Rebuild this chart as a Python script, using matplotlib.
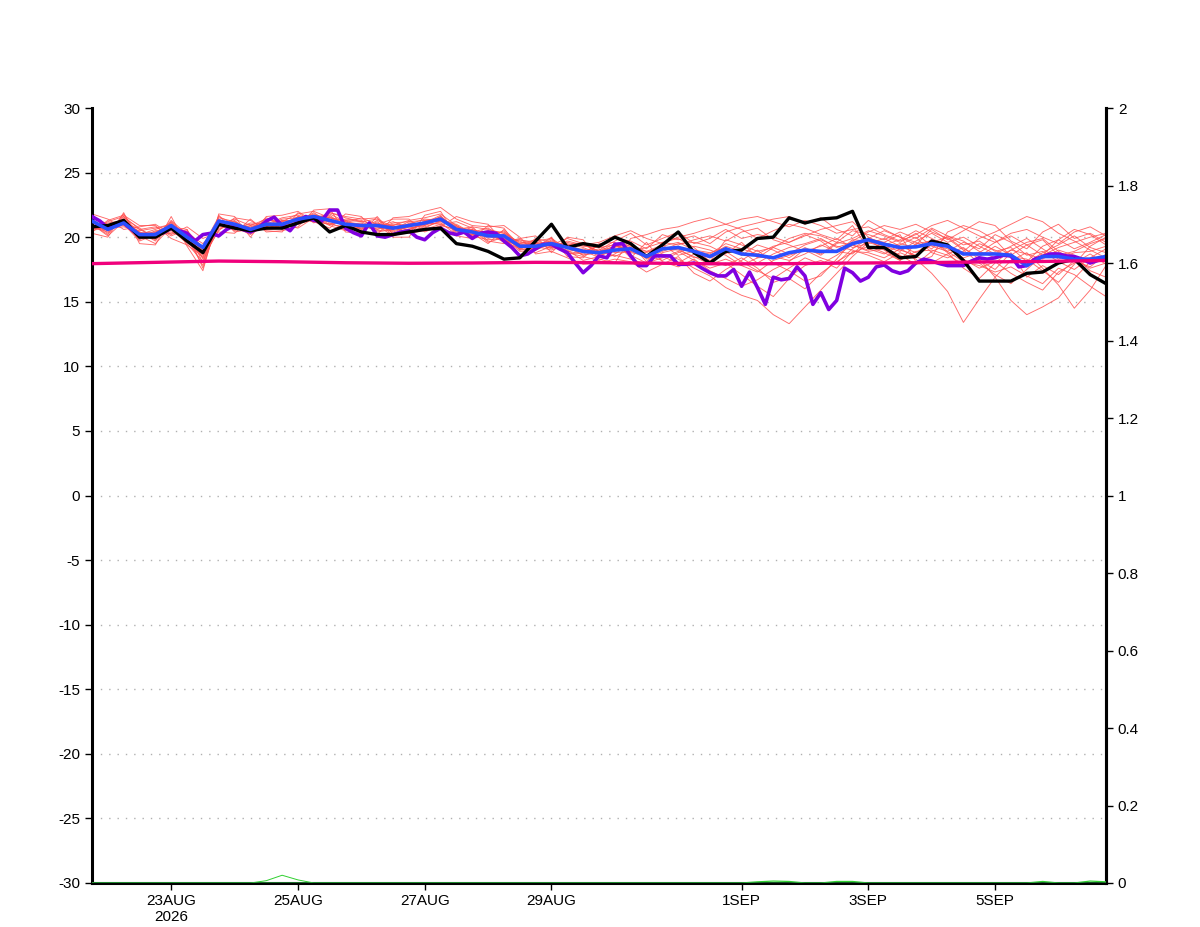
import numpy as np
import matplotlib
matplotlib.use("Agg")
import matplotlib.pyplot as plt
import matplotlib.dates as mdates

# ---------------- data ----------------
start = np.datetime64("2026-08-21T18:00")
n6 = 65    # 6-hourly steps
n3 = 129   # 3-hourly steps
times6 = start + np.arange(n6) * np.timedelta64(6, "h")
times3 = start + np.arange(n3) * np.timedelta64(3, "h")
times24 = start + np.arange(17) * np.timedelta64(24, "h")

black = [20.8, 20.9, 21.3, 20.0, 20.0, 20.7, 19.7, 18.8, 21.0, 20.7, 20.5, 20.7, 20.7, 21.1, 21.5, 20.4, 20.9,
         20.4, 20.2, 20.2, 20.4, 20.6, 20.7, 19.5, 19.3, 18.9, 18.3, 18.4, 19.7, 21.0, 19.2, 19.5, 19.3,
         20.0, 19.5, 18.5, 19.4, 20.4, 18.8, 18.0, 18.9, 19.0, 19.9, 20.0, 21.5, 21.1, 21.4, 21.5, 22.0,
         19.2, 19.2, 18.4, 18.5, 19.7, 19.4, 18.2, 16.6, 16.6, 16.6, 17.2, 17.3, 18.0, 18.3, 17.1, 16.4]

blue = [21.25, 20.6, 21.1, 20.2, 20.2, 20.9, 20.0, 19.2, 21.25, 21.0, 20.6, 21.0, 21.0, 21.4, 21.6, 21.3, 21.0,
        20.9, 20.9, 20.7, 20.9, 21.1, 21.4, 20.6, 20.4, 20.1, 20.1, 19.3, 19.3, 19.5, 19.2, 18.9, 18.8,
        19.0, 19.1, 18.5, 19.1, 19.2, 18.9, 18.5, 19.1, 18.7, 18.6, 18.4, 18.8, 19.0, 18.9, 18.9, 19.5,
        19.8, 19.45, 19.2, 19.25, 19.5, 19.3, 18.7, 18.7, 18.7, 18.6, 17.8, 18.5, 18.5, 18.3, 18.3, 18.5]

purple = [21.6, 21.25, 20.7, 21.0, 21.1, 20.6, 20.1, 20.1, 20.2, 20.35, 20.7, 20.5, 20.3, 19.7, 20.2, 20.3,
          20.1, 20.6, 20.9, 20.6, 20.4, 20.7, 21.25, 21.55, 20.9, 20.5, 21.25, 21.6, 21.3, 21.25, 22.1, 22.1,
          20.7, 20.35, 20.1, 21.1, 20.1, 20.0, 20.2, 20.4, 20.5, 20.0, 19.8, 20.35, 20.7, 20.35, 20.2, 20.4,
          19.9, 20.3, 20.4, 20.3, 19.7, 19.2, 18.55, 18.7, 19.1, 19.45, 19.45, 19.1, 18.8, 18.0, 17.25, 17.8,
          18.55, 18.4, 19.45, 19.5, 18.55, 17.8, 17.8, 18.55, 18.55, 18.55, 17.9, 17.9, 18.0, 17.6, 17.25, 17.0,
          17.0, 17.5, 16.2, 17.3, 16.1, 14.8, 16.9, 16.7, 16.8, 17.7, 17.0, 14.8, 15.7, 14.4, 15.1, 17.6,
          17.25, 16.6, 16.9, 17.7, 17.85, 17.4, 17.2, 17.4, 18.0, 18.3, 18.15, 17.95, 17.8, 17.8, 17.8, 18.15,
          18.4, 18.3, 18.4, 18.6, 18.55, 17.7, 17.8, 18.3, 18.5, 18.7, 18.7, 18.55, 18.5, 18.3, 18.0, 18.2,
          18.3]

pink = [17.95, 18.05, 18.15, 18.1, 18.02, 17.98, 18.0, 18.05, 18.03, 17.98, 17.93, 17.95, 18.0, 18.02,
        18.08, 18.12, 18.2]

m1 = [20.9, 20.5, 21.4, 20.3, 19.8, 21.1, 19.6, 18.6, 21.5, 21.2, 20.4, 21.3, 21.2, 21.8, 22.0, 21.5, 21.2,
      21.0, 20.6, 20.9, 21.3, 21.5, 21.8, 20.9, 20.1, 19.8, 19.9, 18.9, 19.0, 19.8, 18.8, 18.5, 18.2,
      18.7, 19.5, 18.1, 19.6, 19.9, 19.2, 18.1, 19.8, 19.4, 18.9, 19.2, 19.9, 20.3, 20.1, 19.6, 20.5,
      20.2, 19.8, 20.4, 19.9, 20.7, 20.1, 19.4, 19.7, 18.9, 19.2, 18.1, 19.3, 19.8, 19.1, 19.6, 20.2]
m2 = [21.5, 20.9, 21.0, 19.9, 20.5, 20.6, 20.3, 19.5, 20.9, 20.7, 21.0, 20.8, 21.3, 21.1, 21.5, 21.7, 20.8,
      20.5, 21.2, 20.3, 20.6, 21.0, 21.1, 20.2, 20.8, 20.6, 20.3, 19.6, 19.5, 19.1, 19.6, 19.3, 19.2,
      19.4, 18.6, 18.0, 18.4, 18.9, 18.2, 17.6, 18.0, 17.1, 16.2, 15.4, 16.8, 16.0, 17.2, 18.1, 18.8,
      19.3, 18.8, 18.2, 18.9, 19.0, 18.6, 17.9, 18.2, 17.5, 18.8, 16.9, 17.8, 17.1, 18.2, 17.6, 18.0]
m3 = [20.6, 21.2, 21.6, 20.6, 20.0, 21.3, 20.2, 18.9, 21.0, 21.4, 20.9, 20.6, 20.7, 21.6, 21.3, 21.0, 21.4,
      21.3, 20.8, 21.2, 20.7, 20.9, 21.6, 20.5, 20.0, 20.4, 19.7, 19.1, 19.7, 19.9, 18.7, 18.8, 19.4,
      19.9, 19.7, 19.1, 20.2, 19.8, 20.1, 19.5, 20.4, 20.8, 21.1, 21.4, 21.6, 21.0, 21.5, 20.6, 20.1,
      21.3, 20.6, 20.0, 19.4, 20.6, 19.8, 20.5, 21.2, 20.9, 19.7, 19.1, 20.4, 21.0, 19.9, 20.3, 19.6]
m4 = [21.0, 20.2, 21.8, 20.0, 20.3, 20.4, 19.9, 17.8, 21.3, 20.8, 20.2, 21.1, 20.9, 21.2, 21.9, 21.1, 20.6,
      20.7, 20.9, 20.1, 21.1, 20.8, 21.2, 21.0, 20.3, 19.5, 20.6, 19.4, 18.8, 19.3, 19.0, 18.2, 18.5,
      19.1, 18.9, 18.4, 18.7, 18.3, 17.6, 17.0, 16.1, 15.5, 15.1, 14.0, 13.3, 14.6, 15.9, 17.2, 18.5,
      19.6, 19.2, 18.6, 17.9, 18.9, 19.4, 18.3, 17.6, 18.1, 17.2, 16.5, 15.9, 17.3, 18.0, 18.7, 17.9]
m5 = [21.3, 20.7, 20.8, 20.5, 20.7, 21.0, 20.1, 19.3, 21.6, 21.0, 20.6, 20.9, 21.4, 21.5, 21.2, 21.9, 21.5,
      21.2, 21.4, 20.8, 21.0, 21.4, 21.3, 20.7, 20.5, 20.2, 19.8, 19.8, 19.6, 19.4, 19.9, 19.5, 18.9,
      19.3, 19.0, 18.8, 19.3, 19.6, 19.0, 18.8, 19.2, 18.6, 19.4, 19.0, 18.4, 19.2, 18.6, 19.5, 19.9,
      20.5, 20.1, 19.6, 20.3, 19.3, 18.9, 19.6, 19.1, 20.2, 19.6, 18.6, 18.9, 18.1, 17.5, 18.4, 19.1]
m6 = [20.8, 20.4, 21.3, 20.1, 19.5, 20.8, 20.6, 18.3, 20.6, 21.1, 20.7, 21.2, 20.6, 21.3, 21.7, 21.4, 20.9,
      20.9, 20.5, 20.6, 21.2, 21.3, 21.5, 20.4, 20.6, 20.0, 20.5, 19.2, 19.1, 19.7, 18.9, 19.1, 18.6,
      18.9, 19.3, 18.6, 18.5, 18.0, 18.7, 18.2, 17.8, 18.4, 17.6, 16.5, 16.9, 17.8, 18.2, 17.6, 18.9,
      18.8, 18.4, 19.1, 18.5, 18.0, 18.7, 19.2, 18.3, 16.9, 15.1, 14.0, 14.6, 15.3, 16.8, 18.1, 18.6]
m7 = [21.6, 21.0, 21.1, 20.4, 20.1, 21.2, 19.8, 18.9, 21.2, 20.5, 20.9, 21.4, 21.1, 21.0, 21.4, 21.2, 21.1,
      21.5, 21.0, 20.9, 20.5, 21.2, 21.4, 20.8, 20.2, 20.3, 19.6, 19.5, 19.4, 19.2, 19.3, 18.6, 19.0,
      19.7, 20.3, 19.4, 19.9, 20.4, 19.5, 19.9, 20.6, 19.9, 20.2, 20.0, 19.6, 20.1, 20.6, 20.9, 21.2,
      20.0, 19.4, 19.8, 20.5, 19.9, 19.3, 18.6, 19.5, 19.0, 18.4, 18.0, 18.8, 19.4, 20.1, 19.2, 18.8]
m8 = [20.7, 20.6, 21.2, 19.8, 20.4, 20.5, 20.0, 19.0, 20.8, 21.3, 20.3, 20.8, 20.8, 21.5, 21.6, 21.0, 21.3,
      20.6, 21.1, 20.4, 20.8, 20.6, 21.0, 21.2, 20.7, 19.9, 20.2, 19.0, 19.9, 19.6, 19.4, 19.0, 18.4,
      18.6, 18.3, 17.9, 18.8, 19.1, 18.4, 18.6, 19.3, 18.9, 18.0, 18.7, 19.2, 19.5, 19.9, 19.2, 19.6,
      19.9, 20.5, 20.0, 19.6, 19.1, 20.1, 19.7, 18.9, 18.4, 19.0, 18.7, 18.3, 19.0, 18.6, 17.4, 16.9]
m9 = [21.2, 20.3, 21.5, 20.7, 19.9, 20.7, 20.4, 17.6, 21.4, 20.6, 21.1, 21.0, 21.5, 21.7, 21.3, 21.6, 20.7,
      20.8, 20.7, 21.0, 20.9, 21.1, 21.7, 20.3, 20.4, 20.7, 20.0, 19.7, 19.2, 19.9, 19.1, 18.9, 19.3,
      18.8, 18.9, 19.2, 19.6, 19.4, 19.8, 20.1, 19.7, 20.4, 20.7, 19.8, 19.4, 18.9, 19.3, 19.9, 19.2,
      19.5, 19.9, 19.3, 18.8, 19.6, 20.0, 19.1, 18.5, 19.3, 18.6, 19.4, 19.8, 18.6, 18.9, 19.5, 19.9]
m10 = [20.5, 20.8, 20.9, 20.2, 20.6, 21.0, 19.7, 18.4, 21.1, 21.0, 20.5, 20.7, 21.0, 21.3, 21.8, 21.3, 21.0,
       21.1, 20.4, 20.6, 21.0, 20.7, 21.3, 20.6, 20.1, 20.1, 19.9, 19.3, 19.3, 19.0, 19.5, 19.2, 18.7,
       19.2, 19.6, 18.3, 18.9, 19.3, 18.8, 18.4, 18.9, 18.1, 17.4, 16.8, 17.6, 18.4, 17.9, 18.6, 19.4,
       18.9, 19.1, 19.5, 19.2, 19.8, 18.9, 18.1, 17.8, 17.3, 17.7, 17.0, 16.4, 17.6, 17.1, 16.2, 15.4]
m11 = [21.4, 20.6, 21.0, 19.7, 20.2, 20.3, 20.5, 19.2, 20.7, 20.9, 20.8, 21.2, 20.7, 21.0, 21.5, 21.8, 21.2,
       20.6, 21.3, 20.7, 20.4, 21.3, 21.2, 20.9, 20.3, 20.5, 20.3, 19.4, 19.6, 19.3, 18.9, 18.7, 19.1,
       18.5, 19.1, 18.9, 19.4, 18.6, 18.9, 18.7, 19.5, 19.1, 18.7, 19.3, 19.6, 20.2, 19.7, 18.8, 19.8,
       19.7, 19.3, 18.9, 19.7, 20.3, 19.6, 20.0, 19.3, 18.7, 19.3, 19.9, 19.1, 18.3, 18.8, 18.9, 19.3]
m12 = [20.9, 21.1, 21.3, 20.4, 19.7, 21.2, 20.0, 18.7, 21.0, 21.2, 20.6, 20.9, 21.2, 21.4, 21.2, 21.0, 20.8,
       21.0, 20.8, 20.5, 20.8, 21.0, 21.6, 20.7, 20.6, 19.6, 20.0, 19.1, 19.0, 19.5, 19.3, 19.4, 18.9,
       19.5, 18.8, 18.6, 18.2, 18.8, 19.3, 19.0, 18.6, 17.8, 17.3, 18.2, 18.6, 19.0, 18.4, 18.0, 19.1,
       19.9, 19.6, 19.0, 18.6, 19.4, 19.1, 18.4, 18.8, 19.6, 20.1, 19.4, 18.6, 19.2, 19.6, 20.0, 20.3]
m13 = [21.1, 20.5, 21.6, 20.1, 20.0, 20.6, 19.5, 18.1, 20.9, 20.8, 20.4, 21.0, 20.9, 21.6, 21.4, 21.2, 21.0,
       20.7, 20.9, 20.8, 20.6, 21.1, 21.0, 20.5, 20.2, 20.1, 19.8, 19.3, 19.5, 19.6, 19.2, 18.6, 18.8,
       19.3, 19.2, 18.6, 19.1, 19.0, 18.5, 17.9, 18.3, 17.8, 18.4, 19.2, 18.7, 19.4, 19.8, 19.3, 19.0,
       18.6, 18.1, 18.8, 18.3, 17.2, 15.8, 13.4, 15.2, 16.9, 18.2, 18.8, 17.6, 16.3, 14.5, 15.9, 17.8]
m14 = [20.6, 20.8, 21.1, 20.3, 20.4, 20.9, 20.2, 19.1, 21.3, 20.9, 20.7, 20.6, 21.3, 21.2, 21.7, 21.5, 21.3,
       21.2, 20.6, 21.1, 21.2, 20.9, 21.4, 20.8, 20.5, 20.4, 20.4, 19.5, 19.8, 19.2, 19.7, 19.4, 19.6,
       20.1, 20.5, 19.9, 19.5, 20.0, 20.3, 20.7, 21.0, 21.4, 21.6, 21.2, 20.8, 21.3, 20.9, 20.3, 20.6,
       20.8, 20.2, 19.7, 20.2, 20.9, 21.3, 20.7, 20.1, 19.6, 20.3, 20.6, 20.0, 19.5, 20.4, 20.8, 20.1]
m15 = [20.3, 20.0, 21.9, 19.5, 19.4, 21.6, 19.3, 17.4, 21.8, 21.6, 20.0, 21.6, 21.7, 22.0, 21.2, 20.7, 21.8,
       21.6, 20.2, 21.5, 21.6, 22.0, 22.3, 21.4, 20.9, 20.8, 20.9, 20.0, 18.7, 18.9, 18.4, 17.9, 18.0,
       18.3, 18.1, 17.3, 17.9, 18.5, 17.2, 16.6, 17.5, 18.2, 19.0, 18.0, 17.4, 16.6, 17.0, 18.3, 19.7,
       20.4, 20.9, 20.6, 21.0, 20.4, 19.9, 19.0, 18.0, 17.1, 16.4, 17.5, 18.6, 19.8, 20.6, 20.2, 19.4]
m16 = [21.8, 21.4, 20.6, 20.8, 21.0, 20.2, 20.8, 19.9, 20.4, 20.3, 21.4, 20.4, 20.5, 20.8, 22.1, 22.2, 20.4,
       20.3, 21.6, 20.2, 20.3, 20.5, 20.8, 21.6, 21.2, 21.0, 19.6, 19.9, 20.1, 18.8, 20.0, 19.8, 18.3,
       18.0, 19.9, 20.2, 20.6, 20.8, 21.2, 21.5, 21.0, 20.6, 19.9, 20.5, 21.0, 20.7, 20.2, 19.8, 20.9,
       19.1, 18.7, 19.4, 20.0, 18.8, 18.4, 18.9, 19.9, 20.4, 21.0, 21.6, 21.2, 20.3, 19.7, 19.0, 18.4]
m17 = [20.4, 21.3, 21.7, 20.9, 20.9, 19.9, 19.4, 18.5, 20.5, 21.5, 21.3, 20.5, 20.4, 21.9, 21.1, 21.9, 21.6,
       21.4, 21.5, 20.0, 20.0, 21.7, 22.0, 20.1, 19.9, 20.9, 20.7, 19.0, 19.2, 20.0, 18.5, 18.4, 19.5,
       19.6, 18.4, 19.6, 18.1, 17.7, 18.3, 17.4, 16.8, 16.2, 16.7, 17.5, 18.1, 19.1, 18.7, 19.6, 19.4,
       19.0, 19.6, 20.2, 18.1, 18.5, 20.4, 20.9, 20.5, 19.8, 18.5, 18.3, 17.4, 16.5, 17.9, 19.3, 20.0]
m18 = [21.0, 20.1, 21.2, 20.6, 20.8, 20.1, 20.6, 18.0, 21.7, 20.4, 20.6, 21.5, 21.0, 20.7, 21.5, 20.9, 20.5,
       21.0, 21.0, 21.4, 21.4, 20.4, 20.9, 20.6, 20.8, 19.7, 19.5, 19.8, 19.4, 19.4, 19.4, 19.6, 18.7,
       19.0, 19.4, 18.9, 19.0, 19.5, 19.6, 19.3, 18.7, 19.6, 18.4, 18.5, 18.2, 18.7, 19.4, 18.9, 18.7,
       19.8, 19.0, 18.2, 19.5, 19.7, 18.8, 17.6, 16.8, 18.0, 19.0, 19.6, 19.9, 18.9, 18.2, 17.7, 18.7]
members = [m1, m2, m3, m4, m5, m6, m7, m8, m9, m10, m11, m12, m13, m14, m15, m16, m17, m18]

# precipitation-like series on the right axis (0..2)
green_a = [0, 0, 0, 0, 0, 0, 0, 0, 0, 0, 0, 0.006, 0.02, 0.008, 0, 0, 0,
           0, 0, 0, 0, 0, 0, 0, 0, 0, 0, 0, 0, 0, 0, 0, 0,
           0, 0, 0, 0, 0, 0, 0, 0, 0, 0, 0, 0, 0, 0, 0, 0,
           0, 0, 0, 0, 0, 0, 0, 0, 0, 0, 0, 0, 0, 0, 0, 0]
green_b = [0, 0, 0, 0, 0, 0, 0, 0, 0, 0, 0, 0, 0, 0, 0, 0, 0,
           0, 0, 0, 0, 0, 0, 0, 0, 0, 0, 0, 0, 0, 0, 0, 0,
           0, 0, 0, 0, 0, 0, 0, 0, 0, 0.003, 0.005, 0.004, 0, 0, 0.004, 0.004,
           0, 0, 0, 0, 0, 0, 0, 0, 0, 0, 0, 0.004, 0, 0, 0.005, 0.003]
navy = [0] * n6

left_ticks = [-30, -25, -20, -15, -10, -5, 0, 5, 10, 15, 20, 25, 30]
right_ticks = [0, 0.2, 0.4, 0.6, 0.8, 1.0, 1.2, 1.4, 1.6, 1.8, 2.0]
right_labels = ["0", "0.2", "0.4", "0.6", "0.8", "1", "1.2", "1.4", "1.6", "1.8", "2"]
x_tick_dates = ["2026-08-23", "2026-08-25", "2026-08-27", "2026-08-29",
                "2026-09-01", "2026-09-03", "2026-09-05"]
x_tick_labels = ["23AUG\n2026", "25AUG", "27AUG", "29AUG", "1SEP", "3SEP", "5SEP"]


def dnum(t):
    return mdates.date2num(np.datetime64(t).astype("datetime64[ms]").astype(object))


# ---------------- plot ----------------
plt.rcParams['font.family'] = ['Liberation Sans', 'DejaVu Sans']
fig = plt.figure(figsize=(12, 9.27), dpi=100)
ax = fig.add_axes([92 / 1200, 1 - 883 / 927, (1106 - 92) / 1200, (883 - 108) / 927])

for yv in left_ticks[1:-1]:
    ax.axhline(yv, color="#b0b0b0", lw=1.0, ls=(0, (1, 5)), zorder=0)

for m in members:
    ax.plot(times6, m, color="#ff4f4f", lw=0.65, alpha=0.85, zorder=2)
ax.plot(times3, purple, color="#8000e0", lw=2.6, zorder=3)
ax.plot(times6, black, color="black", lw=2.4, zorder=4)
ax.plot(times6, blue, color="#2a4fff", lw=2.6, zorder=5)
ax.plot(times24, pink, color="#f0007c", lw=2.4, zorder=6)

ax.set_xlim(dnum(start), dnum(start + np.timedelta64(16, "D")))
ax.set_ylim(-30, 30)
ax.set_yticks(left_ticks)
ax.set_yticklabels([str(t) for t in left_ticks])
ax.set_xticks([dnum(d) for d in x_tick_dates])
ax.set_xticklabels(x_tick_labels)

ax2 = ax.twinx()
ax2.set_ylim(0, 2)
ax2.set_yticks(right_ticks)
ax2.set_yticklabels(right_labels)
ax2.plot(times6, green_a, color="#30d030", lw=0.7, zorder=3)
ax2.plot(times6, green_b, color="#30d030", lw=0.9, zorder=3)
ax2.plot(times6, navy, color="#101060", lw=1.0, zorder=3)

for a in (ax, ax2):
    a.spines["top"].set_visible(False)
    for s in ("left", "right", "bottom"):
        a.spines[s].set_linewidth(2.2)
    a.tick_params(labelsize=11, width=1, length=5, colors="black")
ax.tick_params(axis="x", pad=3)
ax2.spines["left"].set_visible(False)
ax2.spines["bottom"].set_visible(False)

fig.savefig("out.png", dpi=100)
